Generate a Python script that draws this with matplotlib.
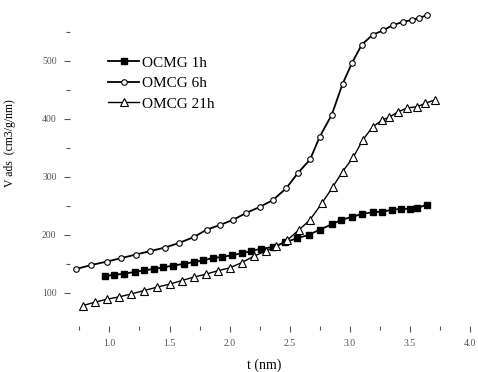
import numpy as np
import matplotlib.pyplot as plt
from matplotlib.ticker import FixedLocator

# pore size t (nm) and adsorbed volume
t_1h = [0.96, 1.04, 1.12, 1.21, 1.29, 1.37, 1.45, 1.53, 1.62, 1.70, 1.78, 1.86,
        1.94, 2.02, 2.10, 2.18, 2.26, 2.36, 2.46, 2.56, 2.66, 2.75, 2.85, 2.93,
        3.02, 3.10, 3.19, 3.27, 3.35, 3.43, 3.50, 3.56, 3.64]
v_1h = [129, 131, 133, 136, 139, 141, 144, 147, 150, 153, 156, 160,
        162, 165, 168, 172, 176, 179, 187, 194, 200, 209, 218, 226,
        231, 236, 239, 240, 243, 245, 245, 246, 252]

t_6h = [0.72, 0.85, 0.98, 1.10, 1.22, 1.34, 1.46, 1.58, 1.70, 1.81, 1.92, 2.03,
        2.14, 2.25, 2.36, 2.47, 2.57, 2.67, 2.75, 2.85, 2.94, 3.02, 3.10, 3.19,
        3.28, 3.36, 3.44, 3.52, 3.58, 3.64]
v_6h = [141, 148, 154, 160, 166, 172, 178, 186, 196, 209, 217, 226,
        238, 248, 260, 280, 307, 330, 369, 407, 460, 497, 528, 545,
        553, 562, 567, 571, 574, 579]

t_21h = [0.78, 0.88, 0.98, 1.08, 1.18, 1.29, 1.40, 1.50, 1.60, 1.70, 1.80, 1.90,
         2.00, 2.10, 2.20, 2.30, 2.39, 2.48, 2.58, 2.67, 2.77, 2.86, 2.94, 3.03,
         3.11, 3.19, 3.27, 3.33, 3.40, 3.48, 3.56, 3.63, 3.71]
v_21h = [78, 84, 89, 93, 98, 104, 110, 115, 121, 127, 132, 138,
         143, 152, 163, 172, 180, 191, 209, 226, 255, 283, 309, 334,
         364, 386, 398, 403, 412, 419, 421, 427, 433]

labels = ['OCMG 1h', 'OMCG 6h', 'OMCG 21h']
x_major = [1.0, 1.5, 2.0, 2.5, 3.0, 3.5, 4.0]
x_minor = [0.75, 1.25, 1.75, 2.25, 2.75, 3.25, 3.75]
y_major = [100, 200, 300, 400, 500]
y_minor = [150, 250, 350, 450, 550]

plt.rcParams['font.family'] = ['Liberation Serif', 'DejaVu Serif']

fig = plt.figure(figsize=(4.78, 3.72), dpi=100)
ax = fig.add_axes([0.146, 0.124, 0.847, 0.868])

ax.plot(t_1h, v_1h, color='black', lw=1.3, marker='s', ms=4.5,
        mfc='black', mec='black', label=labels[0])
ax.plot(t_6h, v_6h, color='black', lw=1.3, marker='o', ms=4,
        mfc='white', mec='black', mew=0.8, label=labels[1])
ax.plot(t_21h, v_21h, color='black', lw=1.0, marker='^', ms=5.5,
        mfc='white', mec='black', mew=0.8, label=labels[2])

ax.set_xlim(0.67, 4.04)
ax.set_ylim(43, 600)

for s in ax.spines.values():
    s.set_visible(False)

ax.xaxis.set_major_locator(FixedLocator(x_major))
ax.xaxis.set_minor_locator(FixedLocator(x_minor))
ax.yaxis.set_major_locator(FixedLocator(y_major))
ax.yaxis.set_minor_locator(FixedLocator(y_minor))
ax.tick_params(which='major', length=4.5, width=0.8, labelsize=7,
               colors='#555555', labelcolor='#555555', pad=5)
ax.tick_params(which='minor', length=3, width=0.8, colors='#555555')

ax.set_xlabel('t (nm)', fontsize=10)
ax.set_ylabel('V ads  (cm3/g/nm)', fontsize=8.5)
ax.xaxis.set_label_coords(0.48, -0.1)
ax.yaxis.set_label_coords(-0.133, 0.567)

ax.legend(loc='upper left', bbox_to_anchor=(0.08, 0.855), frameon=False,
          fontsize=11, handlelength=2.0, handletextpad=0.2, labelspacing=0.45,
          borderaxespad=0)

fig.savefig('out.png', dpi=100)
